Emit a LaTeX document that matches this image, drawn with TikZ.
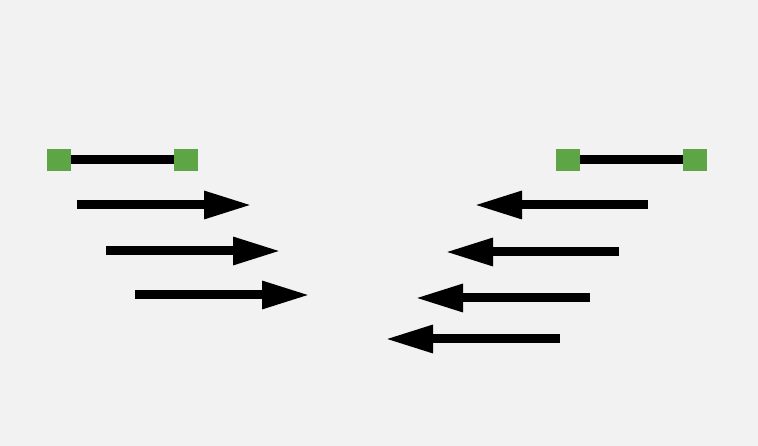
\documentclass[tikz,border=0pt]{standalone}
\usetikzlibrary{arrows.meta}
\definecolor{bg}{HTML}{F2F2F2}
\definecolor{sqgreen}{HTML}{5DA545}
\tikzset{
  endsq/.style={fill=sqgreen, draw=none, minimum width=24pt, minimum height=22pt, inner sep=0pt},
  bar/.style={line width=9pt, black},
  bigarrow/.style={line width=9pt, black, -{Triangle[length=48pt,width=26pt]}}
}
\begin{document}
\begin{tikzpicture}[x=1pt,y=-1pt]
\fill[bg] (0,0) rectangle (758,446);
\useasboundingbox (0,0) rectangle (758,446);
% left segment
\draw[bar] (59,160) -- (186,160);
\node[endsq] (l1) at (59,160) {};
\node[endsq] (l2) at (186,160) {};
% right segment
\draw[bar] (568,160) -- (695,160);
\node[endsq] (r1) at (568,160) {};
\node[endsq] (r2) at (695,160) {};
% left arrows
\coordinate (a1s) at (77,205); \coordinate (a1e) at (252,205);
\coordinate (a2s) at (106,251); \coordinate (a2e) at (281,251);
\coordinate (a3s) at (135,295); \coordinate (a3e) at (310,295);
\draw[bigarrow] (a1s) -- (a1e);
\draw[bigarrow] (a2s) -- (a2e);
\draw[bigarrow] (a3s) -- (a3e);
% right arrows
\coordinate (b1s) at (648,205); \coordinate (b1e) at (474,205);
\coordinate (b2s) at (619,252); \coordinate (b2e) at (445,252);
\coordinate (b3s) at (590,298); \coordinate (b3e) at (415,298);
\coordinate (b4s) at (560,339); \coordinate (b4e) at (385,339);
\draw[bigarrow] (b1s) -- (b1e);
\draw[bigarrow] (b2s) -- (b2e);
\draw[bigarrow] (b3s) -- (b3e);
\draw[bigarrow] (b4s) -- (b4e);
\end{tikzpicture}
\end{document}
